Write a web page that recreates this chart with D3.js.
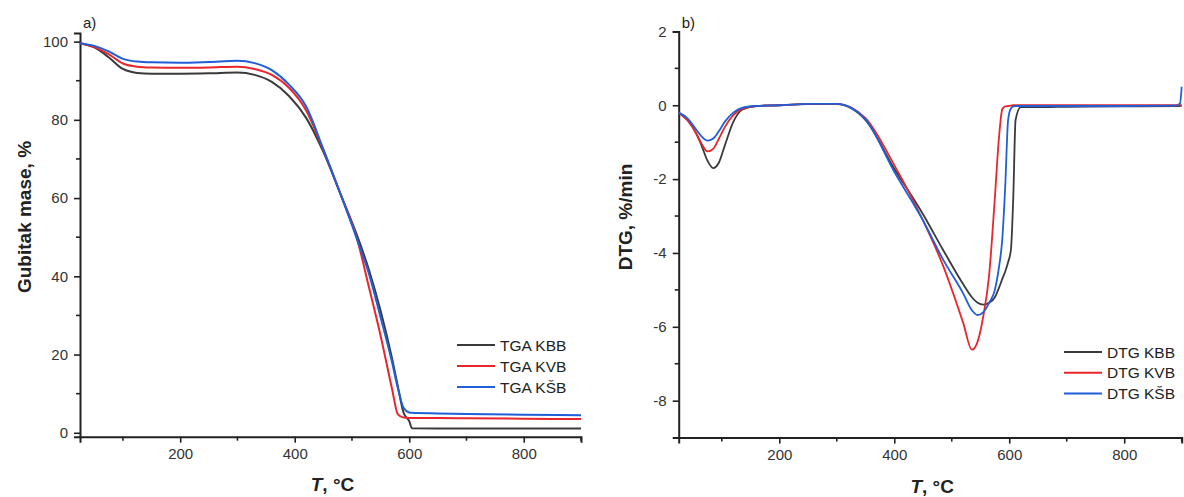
<!DOCTYPE html>
<html>
<head>
<meta charset="utf-8">
<script src="https://cdn.jsdelivr.net/npm/d3@7"></script>
<style>
  body { margin: 0; background: #fff; }
  text { font-family: "Liberation Sans", Arial, sans-serif; }
</style>
</head>
<body>
<script>
// TGA data (mass %)
const tgaTemp = [25, 50, 75, 100, 125, 150, 200, 250, 300, 330, 360, 390, 420, 450, 480, 510, 530, 550, 570, 580, 590, 600, 605, 650, 700, 800, 900]
const tgaKBB  = [99.6, 98.5, 96.0, 93.0, 92.0, 91.8, 91.8, 91.9, 92.1, 91.5, 89.7, 86.1, 80.5, 71.8, 61.0, 50.0, 41.5, 31.2, 19.0, 12.0, 5.2, 3.0, 1.15, 1.1, 1.1, 1.1, 1.1]
const tgaKVB  = [99.6, 98.6, 96.8, 94.4, 93.6, 93.4, 93.3, 93.4, 93.6, 93.0, 91.5, 88.2, 82.4, 72.3, 61.0, 49.0, 37.0, 24.8, 11.2, 4.8, 3.9, 3.8, 3.8, 3.75, 3.7, 3.6, 3.5]
const tgaKSB  = [99.6, 98.9, 97.5, 95.6, 94.9, 94.7, 94.6, 94.8, 95.1, 94.5, 92.7, 89.0, 83.4, 72.5, 61.0, 49.0, 40.5, 29.5, 18.0, 11.5, 6.4, 5.2, 5.1, 4.95, 4.8, 4.6, 4.5]

// DTG data (%/min)
const dtgTemp = [25, 40, 55, 65, 75, 85, 95, 105, 120, 135, 160, 200, 250, 300, 325, 350, 400, 450, 485, 520, 535, 545, 555, 565, 575, 582, 588, 593, 598, 603, 607, 611, 620, 660, 700, 800, 890, 897, 900]
const dtgKBB = [-0.2, -0.4, -0.75, -1.1, -1.5, -1.7, -1.55, -1.1, -0.45, -0.12, -0.02, 0.0, 0.03, 0.03, -0.08, -0.4, -1.72, -2.95, -3.92, -4.85, -5.2, -5.35, -5.4, -5.35, -5.2, -4.95, -4.7, -4.5, -4.25, -3.9, -2.5, -0.4, -0.05, -0.05, -0.04, -0.03, -0.02, -0.02, 0.0]
const dtgKVB = [-0.2, -0.4, -0.75, -1.05, -1.25, -1.18, -0.9, -0.6, -0.27, -0.1, -0.02, 0.0, 0.04, 0.04, -0.06, -0.35, -1.62, -3.12, -4.35, -5.9, -6.62, -6.4, -5.7, -4.6, -2.5, -0.9, -0.1, -0.03, -0.02, -0.01, 0.0, 0.0, 0.0, 0.0, 0.0, 0.0, 0.0, 0.0, 0.0]
const dtgKSB = [-0.2, -0.35, -0.65, -0.85, -0.96, -0.9, -0.7, -0.45, -0.2, -0.07, -0.02, 0.0, 0.04, 0.04, -0.07, -0.38, -1.8, -3.12, -4.18, -5.1, -5.55, -5.68, -5.6, -5.35, -5.0, -4.4, -3.6, -2.2, -0.4, -0.08, -0.03, -0.02, -0.02, -0.02, -0.02, -0.02, -0.01, 0.05, 0.5]

const xTicks = [200, 400, 600, 800]
const xMinor = [100, 300, 500, 700, 900]
const tgaTicks = [0, 20, 40, 60, 80, 100]
const tgaMinor = [10, 30, 50, 70, 90]
const dtgTicks = [2, 0, -2, -4, -6, -8]
const dtgMinor = [1, -1, -3, -5, -7]

const colors = ['#3a3a3a', '#e8262b', '#1f5fd8']
const tgaNames = ['TGA KBB', 'TGA KVB', 'TGA KŠB']
const dtgNames = ['DTG KBB', 'DTG KVB', 'DTG KŠB']

const W = 1184, H = 497
const svg = d3.select('body').append('svg').attr('width', W).attr('height', H)

// plain hyphen for negatives, like the original
const fmt = d => String(d)

function panel(opt) {
  const x = d3.scaleLinear().domain([25, 900]).range([opt.x0, opt.x1])
  const y = d3.scaleLinear().domain(opt.yDomain).range([opt.y0, opt.y1])
  const g = svg.append('g')

  // x axis
  const xa = g.append('g').attr('transform', `translate(0,${opt.y0})`)
    .call(d3.axisBottom(x).tickValues(xTicks).tickSize(6).tickPadding(6).tickFormat(fmt))
  xa.append('g').selectAll('line').data(xMinor).enter().append('line')
    .attr('x1', d => x(d)).attr('x2', d => x(d)).attr('y1', 0).attr('y2', 4)
    .attr('stroke', '#222').attr('stroke-width', 1.6)
  // y axis
  const ya = g.append('g').attr('transform', `translate(${opt.x0},0)`)
    .call(d3.axisLeft(y).tickValues(opt.ticks).tickSize(6).tickPadding(6).tickFormat(fmt))
  ya.append('g').selectAll('line').data(opt.minor).enter().append('line')
    .attr('y1', d => y(d)).attr('y2', d => y(d)).attr('x1', 0).attr('x2', -4)
    .attr('stroke', '#222').attr('stroke-width', 1.6)

  g.selectAll('.domain').attr('stroke', '#222').attr('stroke-width', 2)
  g.selectAll('.tick line').attr('stroke', '#222').attr('stroke-width', 1.6)
  g.selectAll('.tick text').attr('font-size', 15).attr('fill', '#333')
    .attr('font-family', '"Liberation Sans", Arial, sans-serif')

  // curves
  const line = d3.line().x(d => x(d[0])).y(d => y(d[1])).curve(d3.curveMonotoneX)
  opt.series.forEach((s, i) => {
    g.append('path').datum(opt.temp.map((t, k) => [t, s[k]]))
      .attr('d', line).attr('fill', 'none')
      .attr('stroke', colors[i]).attr('stroke-width', opt.lw)
  })

  // legend
  opt.names.forEach((n, i) => {
    const ly = opt.legY + i * opt.legStep
    g.append('line').attr('x1', opt.legX).attr('x2', opt.legX + 38)
      .attr('y1', ly).attr('y2', ly).attr('stroke', colors[i]).attr('stroke-width', 2)
    g.append('text').attr('x', opt.legX + 43).attr('y', ly + 5.5)
      .attr('font-size', 15.5).attr('fill', '#222').text(n)
  })

  // panel letter
  g.append('text').attr('x', opt.x0 + 3).attr('y', 28).attr('font-size', 15)
    .attr('fill', '#222').text(opt.letter)

  // y title
  g.append('text').attr('transform', `translate(${opt.yTitleX},217) rotate(-90)`)
    .attr('text-anchor', 'middle').attr('font-size', 19).attr('font-weight', 'bold')
    .attr('fill', '#222').text(opt.yTitle)

  // x title
  const xt = g.append('text').attr('x', (opt.x0 + opt.x1) / 2 + 2).attr('y', opt.xTitleY)
    .attr('text-anchor', 'middle').attr('font-size', 19).attr('font-weight', 'bold').attr('fill', '#222')
  xt.append('tspan').attr('font-style', 'italic').text('T')
  xt.append('tspan').text(', °C')
}

panel({
  x0: 80, x1: 581, y0: 436.7, y1: 33, yDomain: [-1, 102.2],
  ticks: tgaTicks, minor: tgaMinor, temp: tgaTemp, series: [tgaKBB, tgaKVB, tgaKSB],
  names: tgaNames, legX: 457, legY: 345, legStep: 21, letter: 'a)',
  yTitle: 'Gubitak mase, %', yTitleX: 31, xTitleY: 491, lw: 2
})

panel({
  x0: 678.7, x1: 1181.7, y0: 437.6, y1: 31.4, yDomain: [-9, 2],
  ticks: dtgTicks, minor: dtgMinor, temp: dtgTemp, series: [dtgKBB, dtgKVB, dtgKSB],
  names: dtgNames, legX: 1064, legY: 352, legStep: 20.8, letter: 'b)',
  yTitle: 'DTG, %/min', yTitleX: 632, xTitleY: 493, lw: 1.8
})
</script>
</body>
</html>
